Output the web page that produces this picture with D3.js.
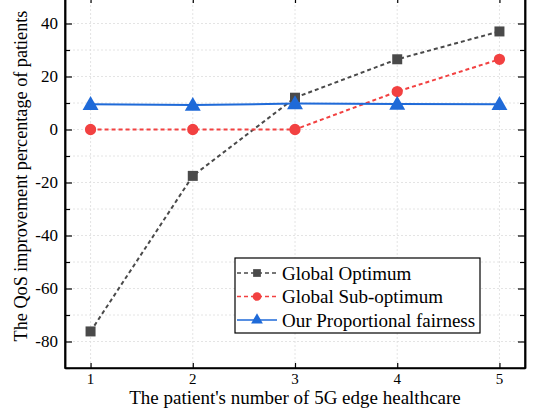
<!DOCTYPE html>
<html>
<head>
<meta charset="utf-8">
<script src="https://cdn.jsdelivr.net/npm/d3@7"></script>
<style>
  body { margin: 0; background: #fff; }
  svg { font-family: "Liberation Serif", "Times New Roman", serif; }
</style>
</head>
<body>
<div class="container"></div>
<script>
var patients = [1, 2, 3, 4, 5];
var globalOpt = [-76.2, -17.5, 12, 26.5, 37];
var globalSub = [0, 0, 0, 14.3, 26.5];
var propFair = [9.5, 9.2, 9.8, 9.6, 9.5];
var yTicks = [-80, -60, -40, -20, 0, 20, 40];
var seriesNames = ["Global Optimum", "Global Sub-optimum", "Our Proportional fairness"];

var W = 535, H = 413;
var pLeft = 65, pRight = 525, pTop = -3, pBottom = 368;

var svg = d3.select('.container').append('svg').attr('width', W).attr('height', H);

var x = d3.scaleLinear().domain([0.75, 5.25]).range([pLeft, pRight]);
var y = d3.scaleLinear().domain([-90, 50]).range([pBottom, pTop]);

// grid
var grid = svg.append('g').attr('stroke', '#ddd').attr('stroke-width', 0.8).attr('stroke-dasharray', '2,2');
grid.selectAll('.gx').data(patients).enter().append('line')
	.attr('x1', function(d){ return x(d); }).attr('x2', function(d){ return x(d); })
	.attr('y1', pTop).attr('y2', pBottom);
grid.selectAll('.gy').data(d3.range(-80, 50, 10)).enter().append('line')
	.attr('y1', function(d){ return y(d); }).attr('y2', function(d){ return y(d); })
	.attr('x1', pLeft).attr('x2', pRight);

// axes (ticks pointing inward)
svg.append('g').attr('transform', 'translate(0,' + pBottom + ')')
	.call(d3.axisTop(x).tickValues(patients).tickFormat('').tickSizeInner(5).tickSizeOuter(0));
svg.append('g').attr('transform', 'translate(0,' + pTop + ')')
	.call(d3.axisBottom(x).tickValues(patients).tickFormat('').tickSizeInner(6).tickSizeOuter(0));
svg.append('g').attr('transform', 'translate(' + pLeft + ',0)')
	.call(d3.axisRight(y).tickValues(yTicks).tickFormat('').tickSizeInner(7).tickSizeOuter(0));
svg.append('g').attr('transform', 'translate(' + pLeft + ',0)')
	.call(d3.axisRight(y).tickValues(d3.range(-90, 50, 20)).tickFormat('').tickSizeInner(5).tickSizeOuter(0));
svg.append('g').attr('transform', 'translate(' + pRight + ',0)')
	.call(d3.axisLeft(y).tickValues(yTicks).tickFormat('').tickSizeInner(7).tickSizeOuter(0));
svg.append('g').attr('transform', 'translate(' + pRight + ',0)')
	.call(d3.axisLeft(y).tickValues(d3.range(-90, 50, 20)).tickFormat('').tickSizeInner(5).tickSizeOuter(0));

svg.selectAll('.domain').attr('stroke', '#000').attr('stroke-width', 1.5);
svg.selectAll('.tick line').attr('stroke', '#000').attr('stroke-width', 1.2);

// x labels
svg.selectAll('.xlab').data(patients).enter().append('text')
	.attr('x', function(d){ return x(d); }).attr('y', 384)
	.attr('text-anchor', 'middle').attr('font-size', 15)
	.text(function(d){ return d; });

// y labels
svg.selectAll('.ylab').data(yTicks).enter().append('text')
	.attr('x', pLeft - 7).attr('y', function(d){ return y(d); })
	.attr('dy', '0.35em').attr('text-anchor', 'end').attr('font-size', 17)
	.text(function(d){ return d; });

// frame
svg.append('rect').attr('x', pLeft).attr('y', pTop).attr('width', pRight - pLeft).attr('height', pBottom - pTop)
	.attr('fill', 'none').attr('stroke', '#000').attr('stroke-width', 1.5);

var line = d3.line().x(function(d, i){ return x(patients[i]); }).y(function(d){ return y(d); });

var colors = ['#4a4a4a', '#f24141', '#1f6ad8'];
var dashes = ['4,3', '4,3', null];
var datas = [globalOpt, globalSub, propFair];
var symbols = [d3.symbolSquare, d3.symbolCircle, d3.symbolTriangle];
var sizes = [100, 100, 110];

datas.forEach(function(data, k){
	svg.append('path').datum(data)
		.attr('d', line).attr('fill', 'none').attr('stroke', colors[k])
		.attr('stroke-width', 2).attr('stroke-dasharray', dashes[k]);
	svg.selectAll('.m' + k).data(data).enter().append('path')
		.attr('transform', function(d, i){ return 'translate(' + x(patients[i]) + ',' + (y(d) + (k == 2 ? 1 : 0)) + ')'; })
		.attr('d', d3.symbol().type(symbols[k]).size(sizes[k]))
		.attr('fill', colors[k]);
});

// legend
var lg = svg.append('g').attr('transform', 'translate(235,258)');
lg.append('rect').attr('width', 245).attr('height', 75).attr('fill', '#fff').attr('stroke', '#000').attr('stroke-width', 1.2);
seriesNames.forEach(function(name, k){
	var yy = 15 + k * 23.5;
	lg.append('line').attr('x1', 2).attr('x2', 42).attr('y1', yy).attr('y2', yy)
		.attr('stroke', colors[k]).attr('stroke-width', 1.5).attr('stroke-dasharray', dashes[k]);
	lg.append('path').attr('transform', 'translate(22,' + yy + ')')
		.attr('d', d3.symbol().type(symbols[k]).size(60)).attr('fill', colors[k]);
	lg.append('text').attr('x', 47).attr('y', yy).attr('dy', '0.35em').attr('font-size', 19).text(name);
});

// axis titles
svg.append('text').attr('x', (pLeft + pRight) / 2).attr('y', 404).attr('text-anchor', 'middle')
	.attr('font-size', 19).text("The patient's number of 5G edge healthcare");
svg.append('text').attr('transform', 'translate(27,' + 176 + ') rotate(-90)').attr('text-anchor', 'middle')
	.attr('font-size', 18.2).text('The QoS improvement percentage of patients');
</script>
</body>
</html>
